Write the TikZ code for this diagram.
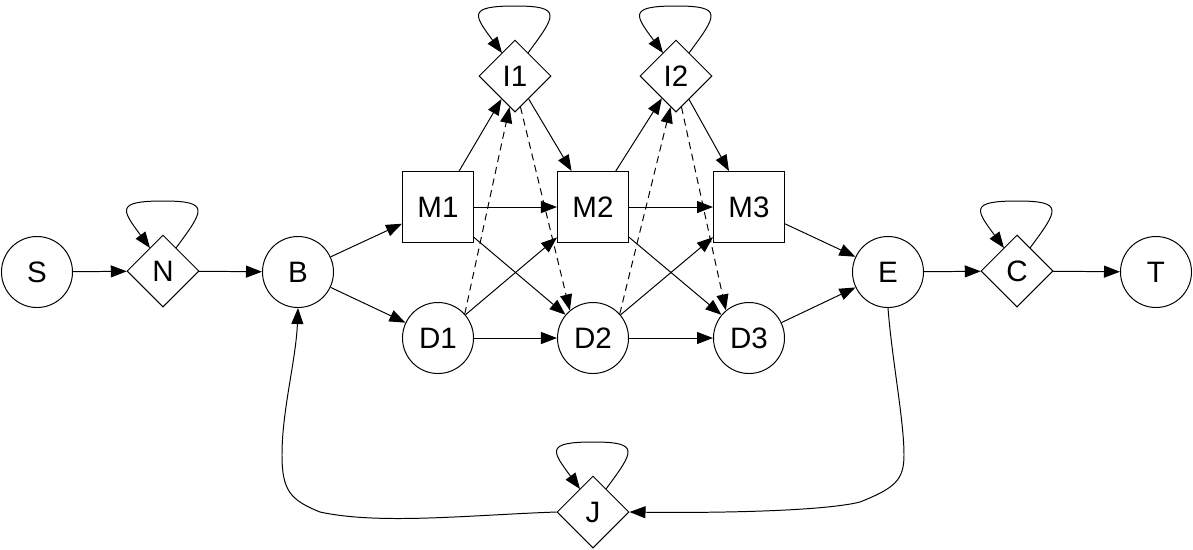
\documentclass[tikz,border=0pt]{standalone}
\usepackage{fontspec}
\setmainfont{Liberation Sans}
\usetikzlibrary{shapes.geometric,arrows.meta,calc}

\begin{document}
\begin{tikzpicture}[x=0.025cm, y=0.025cm, line width=0.7pt,
    font=\fontsize{21}{25}\selectfont,
    state/.style={circle, draw, minimum size=1.775cm, inner sep=0pt},
    choice/.style={diamond, draw, aspect=1, minimum size=1.8cm, inner sep=0pt},
    box/.style={rectangle, draw, minimum size=1.775cm, inner sep=0pt},
    hint/.style={dash pattern=on 5pt off 3.5pt},
    >={Triangle[length=0.4cm, width=0.3cm]}]
      \useasboundingbox (0,0) rectangle (1193,-549);

      % Nodes
      \node[state] at (37, -272) (S) {S};
      \node[choice] at (163, -271) (N) {N};
      \node[state] at (298, -272) (B) {B};
      \node[box] at (438, -207) (M1) {M1};
      \node[state] at (438, -338) (D1) {D1};
      \node[choice] at (515, -76) (I1) {I1};
      \node[box] at (593, -207) (M2) {M2};
      \node[state] at (593, -338) (D2) {D2};
      \node[choice] at (676, -76) (I2) {I2};
      \node[box] at (749, -207) (M3) {M3};
      \node[state] at (749, -338) (D3) {D3};
      \node[state] at (888, -272) (E) {E};
      \node[choice] at (1017, -271) (C) {C};
      \node[state] at (1156, -272) (T) {T};
      \node[choice] at (593, -512) (J) {J};

      % Edges
      \draw[->] (S) edge (N);
      \draw[->] (N) edge (B);
      \draw[->] (B) edge (M1);
      \draw[->] (B) edge (D1);
      \draw[->] (M1) edge (I1);
      \draw[->] (M1) edge (M2);
      \draw[->] (M1) edge (D2);
      \draw[->] (D1) edge (M2);
      \draw[->] (D1) edge (D2);
      \draw[->] (I1) edge (M2);
      \draw[->] (M2) edge (I2);
      \draw[->] (M2) edge (M3);
      \draw[->] (M2) edge (D3);
      \draw[->] (D2) edge (M3);
      \draw[->] (D2) edge (D3);
      \draw[->] (I2) edge (M3);
      \draw[->] (M3) edge (E);
      \draw[->] (D3) edge (E);
      \draw[->] (E) edge (C);
      \draw[->] (C) edge (T);

      % Dashed edges
      \draw[->, hint] (D1.42) -- (I1.-100);
      \draw[->, hint] (I1.-80) -- (D2.130);
      \draw[->, hint] (D2.42) -- (I2.-100);
      \draw[->, hint] (I2.-80) -- (D3.130);

      % Back edges
      \draw[->] (E.south) .. controls (892, -360) and (904, -420) .. (904, -455)
        .. controls (904, -480) and (895, -488) .. (860, -502)
        .. controls (820, -512) and (700, -513) .. (J.east);
      \draw[->] (J.west) .. controls (470, -515) and (380, -525) .. (320, -512)
        .. controls (290, -500) and (282, -490) .. (282, -455)
        .. controls (282, -410) and (296, -360) .. (B.south);

      % Self loops
      \foreach \n in {N, I1, I2, C, J}
        \draw[->] ($(\n)+(13,23)$) .. controls +(28,38) and +(48,0) .. ($(\n)+(0,70)$)
          .. controls +(-48,0) and +(-28,38) .. ($(\n)+(-13,23)$);
    \end{tikzpicture}
\end{document}
